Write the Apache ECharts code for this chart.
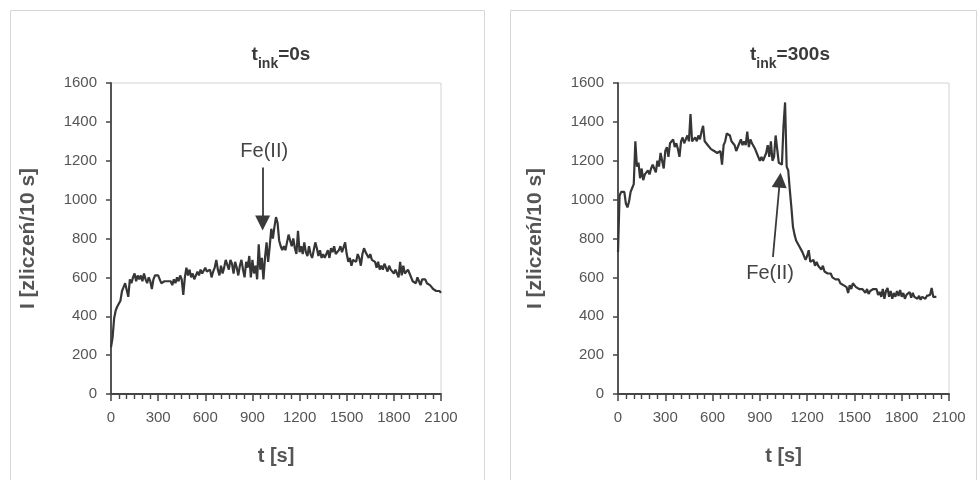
<!DOCTYPE html>
<html>
<head>
<meta charset="utf-8">
<script src="https://cdn.jsdelivr.net/npm/echarts@6/dist/echarts.min.js"></script>
<style>
html,body{margin:0;padding:0;background:#ffffff;}
#chart{width:979px;height:480px;}
</style>
</head>
<body>
<div id="chart"></div>
<script>
// ---- Data ----
const titleLeft = 't_ink=0s';
const titleRight = 't_ink=300s';
const yAxisName = 'I [zliczeń/10 s]';
const xAxisName = 't [s]';
const xTicks = [0, 300, 600, 900, 1200, 1500, 1800, 2100];
const yTicks = [0, 200, 400, 600, 800, 1000, 1200, 1400, 1600];

const timeLeft = [
  0,10,20,30,40,50,60,70,80,90,
  100,110,120,130,140,150,160,170,180,190,
  200,210,220,230,240,250,260,270,280,290,
  300,310,320,330,340,350,360,370,380,390,
  400,410,420,430,440,450,460,470,480,490,
  500,510,520,530,540,550,560,570,580,590,
  600,610,620,630,640,650,660,670,680,690,
  700,710,720,730,740,750,760,770,780,790,
  800,810,820,830,840,850,860,870,880,890,
  900,910,920,930,940,950,960,970,980,990,
  1000,1010,1020,1030,1040,1050,1060,1070,1080,1090,
  1100,1110,1120,1130,1140,1150,1160,1170,1180,1190,
  1200,1210,1220,1230,1240,1250,1260,1270,1280,1290,
  1300,1310,1320,1330,1340,1350,1360,1370,1380,1390,
  1400,1410,1420,1430,1440,1450,1460,1470,1480,1490,
  1500,1510,1520,1530,1540,1550,1560,1570,1580,1590,
  1600,1610,1620,1630,1640,1650,1660,1670,1680,1690,
  1700,1710,1720,1730,1740,1750,1760,1770,1780,1790,
  1800,1810,1820,1830,1840,1850,1860,1870,1880,1890,
  1900,1910,1920,1930,1940,1950,1960,1970,1980,1990,
  2000,2010,2020,2030,2040,2050,2060,2070,2080,2090,2100
];
const countsLeft = [
  240,290,390,430,450,460,480,530,550,570,
  580,500,590,570,600,620,580,610,590,610,
  580,620,590,570,600,580,540,590,610,620,
  610,590,570,560,580,570,580,590,580,560,
  590,570,600,580,610,590,510,600,650,610,
  640,600,620,590,600,630,610,640,620,610,
  650,630,620,640,600,630,650,690,640,610,
  660,620,650,690,680,640,690,670,620,680,
  650,610,660,690,640,600,680,650,710,600,
  690,620,660,590,770,640,700,590,700,780,
  680,760,850,800,860,910,880,790,760,740,
  760,740,780,820,790,760,800,750,720,840,
  730,760,720,780,730,710,760,720,700,740,
  780,750,710,740,700,720,700,720,740,700,
  750,730,760,720,710,740,760,730,740,780,
  720,680,700,660,690,700,680,720,700,660,
  720,750,730,720,700,720,690,700,680,650,
  680,640,660,640,670,650,630,660,640,650,
  620,640,620,600,680,610,660,620,610,640,
  620,600,580,590,570,600,580,560,590,580,
  590,570,580,560,570,540,550,530,520,530,520
];

const timeRight = [
  0,10,20,30,40,50,60,70,80,90,
  100,110,120,130,140,150,160,170,180,190,
  200,210,220,230,240,250,260,270,280,290,
  300,310,320,330,340,350,360,370,380,390,
  400,410,420,430,440,450,460,470,480,490,
  500,510,520,530,540,550,560,570,580,590,
  600,610,620,630,640,650,660,670,680,690,
  700,710,720,730,740,750,760,770,780,790,
  800,810,820,830,840,850,860,870,880,890,
  900,910,920,930,940,950,960,970,980,990,
  1000,1010,1020,1030,1040,1050,1060,1070,1080,1090,
  1100,1110,1120,1130,1140,1150,1160,1170,1180,1190,
  1200,1210,1220,1230,1240,1250,1260,1270,1280,1290,
  1300,1310,1320,1330,1340,1350,1360,1370,1380,1390,
  1400,1410,1420,1430,1440,1450,1460,1470,1480,1490,
  1500,1510,1520,1530,1540,1550,1560,1570,1580,1590,
  1600,1610,1620,1630,1640,1650,1660,1670,1680,1690,
  1700,1710,1720,1730,1740,1750,1760,1770,1780,1790,
  1800,1810,1820,1830,1840,1850,1860,1870,1880,1890,
  1900,1910,1920,1930,1940,1950,1960,1970,1980,1990,
  2000,2010,2020
];
const countsRight = [
  730,1020,1040,1030,1040,980,960,990,1040,1060,
  1080,1300,1170,1190,1110,1160,1100,1130,1140,1150,
  1130,1160,1180,1160,1140,1200,1170,1240,1200,1160,
  1250,1270,1220,1290,1300,1310,1270,1290,1260,1220,
  1300,1320,1290,1310,1330,1300,1440,1300,1290,1320,
  1300,1330,1310,1350,1380,1300,1290,1280,1270,1260,
  1260,1250,1250,1240,1240,1250,1180,1280,1300,1340,
  1340,1330,1300,1300,1280,1250,1260,1290,1310,1280,
  1300,1280,1350,1270,1310,1290,1300,1260,1240,1220,
  1200,1220,1200,1190,1240,1280,1220,1300,1200,1220,
  1330,1340,1190,1190,1180,1380,1500,1170,1150,1050,
  960,860,820,790,780,760,750,730,720,690,
  710,740,680,670,690,660,680,660,670,640,
  660,630,640,620,610,620,600,610,590,580,
  590,570,580,560,570,550,520,560,540,570,
  560,550,560,540,550,540,550,520,540,515,
  530,520,540,530,540,510,525,500,540,490,
  530,545,500,530,490,520,500,530,505,535,
  500,520,490,510,500,525,495,520,500,510,
  490,505,485,500,510,490,505,495,510,545,
  500,490,500
];

// Annotations (data coordinates)
const annotLabel = 'Fe(II)';
const arrowLeft = {from: [965, 1165], to: [965, 880], text: [975, 1250]};
const arrowRight = {from: [983, 705], to: [1027, 1100], text: [965, 622]};

// ---- Chart ----
const FONT = "'Liberation Sans', Arial, sans-serif";
const AX = '#454545';
const TXT = '#555555';
const LINE = '#363636';

function pairs(t, v) { return t.map((x, i) => [x, v[i]]); }

function titleRich(s) {
  const m = s.match(/^t_(\w+)(=.*)$/);
  return '{a|t}{b|' + m[1] + '}{a|' + m[2] + '}';
}

const rich = {
  a: {fontSize: 19, fontWeight: 'bold', fontFamily: FONT, color: '#3a3a3a', lineHeight: 22, verticalAlign: 'top'},
  b: {fontSize: 14, fontWeight: 'bold', fontFamily: FONT, color: '#3a3a3a', lineHeight: 14, padding: [12, 0, 0, 0], verticalAlign: 'top'}
};

function plain(v) { return String(v); }

function xAxisCfg(idx) {
  return {
    type: 'value', gridIndex: idx, min: xTicks[0], max: xTicks[xTicks.length - 1], interval: 300,
    name: xAxisName, nameLocation: 'middle', nameGap: 52,
    nameTextStyle: {fontFamily: FONT, fontWeight: 'bold', fontSize: 20, color: TXT},
    axisLine: {show: true, onZero: false, lineStyle: {color: AX, width: 1.8}},
    axisTick: {show: true, length: 7, lineStyle: {color: AX, width: 1.5}},
    minorTick: {show: true, splitNumber: 6, length: 5, lineStyle: {color: AX, width: 1.4}},
    splitLine: {show: false}, minorSplitLine: {show: false},
    axisLabel: {fontFamily: FONT, fontSize: 15, color: TXT, margin: 16, formatter: plain}
  };
}
function yAxisCfg(idx) {
  return {
    type: 'value', gridIndex: idx, min: yTicks[0], max: yTicks[yTicks.length - 1], interval: 200,
    name: yAxisName, nameLocation: 'middle', nameGap: 72, nameRotate: 90,
    nameTextStyle: {fontFamily: FONT, fontWeight: 'bold', fontSize: 21, color: TXT},
    axisLine: {show: true, onZero: false, lineStyle: {color: AX, width: 1.8}},
    axisTick: {show: true, length: 5, lineStyle: {color: AX, width: 1.5}},
    splitLine: {show: false},
    axisLabel: {fontFamily: FONT, fontSize: 15, color: TXT, margin: 14, formatter: plain}
  };
}

function annotSeries(idx, a) {
  return {
    type: 'line', xAxisIndex: idx, yAxisIndex: idx, data: [], silent: true,
    markLine: {
      silent: true, animation: false,
      symbol: ['none', 'triangle'], symbolSize: [15, 15],
      lineStyle: {color: '#3a3a3a', width: 1.8, type: 'solid'},
      label: {show: false},
      data: [[{coord: a.from}, {coord: a.to}]]
    },
    markPoint: {
      silent: true, animation: false,
      symbol: 'circle', symbolSize: 1, itemStyle: {color: 'rgba(0,0,0,0)'},
      label: {show: true, position: 'inside', formatter: annotLabel, fontFamily: FONT, fontSize: 20, color: '#444'},
      data: [{coord: a.text}]
    }
  };
}

const chart = echarts.init(document.getElementById('chart'), null, {renderer: 'canvas'});
chart.setOption({
  animation: false,
  backgroundColor: '#ffffff',
  graphic: [
    {type: 'rect', shape: {x: 10.5, y: 10.5, width: 474, height: 480}, style: {fill: 'none', stroke: '#d6d6d6', lineWidth: 1}, z: -10},
    {type: 'rect', shape: {x: 510.5, y: 10.5, width: 466, height: 480}, style: {fill: 'none', stroke: '#d6d6d6', lineWidth: 1}, z: -10}
  ],
  title: [
    {text: titleRich(titleLeft), left: 276, top: 40, textAlign: 'center', textStyle: {rich: rich}},
    {text: titleRich(titleRight), left: 785, top: 40, textAlign: 'center', textStyle: {rich: rich}}
  ],
  grid: [
    {left: 111, top: 83, width: 330, height: 311, show: true, borderColor: '#d2d2d2', borderWidth: 1, backgroundColor: '#fff'},
    {left: 618, top: 83, width: 331, height: 311, show: true, borderColor: '#d2d2d2', borderWidth: 1, backgroundColor: '#fff'}
  ],
  xAxis: [xAxisCfg(0), xAxisCfg(1)],
  yAxis: [yAxisCfg(0), yAxisCfg(1)],
  series: [
    {type: 'line', xAxisIndex: 0, yAxisIndex: 0, data: pairs(timeLeft, countsLeft), showSymbol: false,
     lineStyle: {color: LINE, width: 2.2}, silent: true},
    {type: 'line', xAxisIndex: 1, yAxisIndex: 1, data: pairs(timeRight, countsRight), showSymbol: false,
     lineStyle: {color: LINE, width: 2.2}, silent: true},
    annotSeries(0, arrowLeft),
    annotSeries(1, arrowRight)
  ]
});
</script>
</body>
</html>
